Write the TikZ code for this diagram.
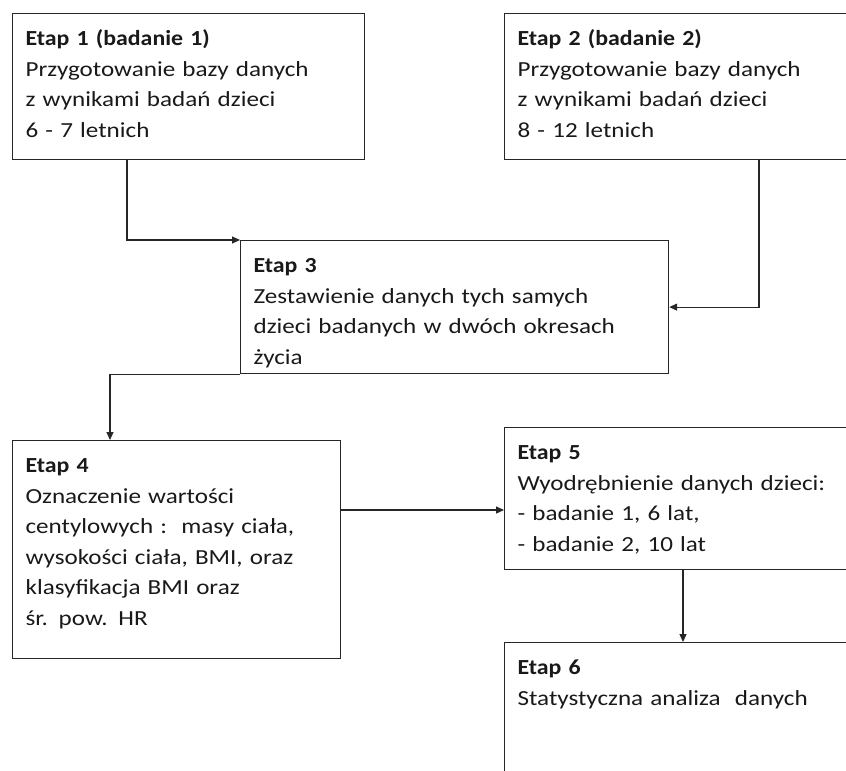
\documentclass[tikz,border=0pt]{standalone}
\usepackage{fontspec}
\setmainfont{Carlito}[FakeStretch=1.167,BoldFeatures={FakeStretch=1.109}]
\usetikzlibrary{arrows.meta}

\begin{document}
\begin{tikzpicture}[x=1pt,y=-1pt,>={Triangle[length=8pt,width=7pt]},
  etap/.style={draw=black!85,line width=1.2pt,anchor=north west,align=left,
    inner xsep=13pt,inner ysep=19pt,text height=13pt,text=black!90,
    font=\fontsize{21.5}{30.5}\selectfont},
  link/.style={->,draw=black!85,line width=1.2pt}]
  \useasboundingbox (0,0) rectangle (846,771);
  \clip (0,0) rectangle (846,771);
  % the two studies
  \node[etap,text width=326pt,text depth=95pt] (etap1) at (12,13)
    {\textbf{Etap 1 (badanie 1)}\\Przygotowanie bazy danych\\z wynikami badań dzieci\\6 - 7 letnich};
  \node[etap,text width=354pt,text depth=95pt] (etap2) at (504,13)
    {\textbf{Etap 2 (badanie 2)}\\Przygotowanie bazy danych\\z wynikami badań dzieci\\8 - 12 letnich};
  % merging
  \node[etap,text width=402pt,text depth=82pt] (etap3) at (240,240)
    {\textbf{Etap 3}\\Zestawienie danych tych samych\\dzieci badanych w dwóch okresach\\życia};
  \node[etap,text width=302pt,text depth=167pt] (etap4) at (12,440)
    {\textbf{Etap 4}\\Oznaczenie wartości\\centylowych :\ \ masy ciała,\\wysokości ciała, BMI, oraz\\klasyfikacja BMI oraz\\śr. pow. HR};
  \node[etap,text width=354pt,text depth=91pt] (etap5) at (504,427)
    {\textbf{Etap 5}\\Wyodrębnienie danych dzieci:\\- badanie 1, 6 lat,\\- badanie 2, 10 lat};
  \node[etap,text width=354pt,text depth=150pt] (etap6) at (504,642)
    {\textbf{Etap 6}\\Statystyczna analiza\ \ danych};
  % arrows between stages
  \draw[link] ([xshift=115pt]etap1.south west) |- (etap3.north west);
  \draw[link] ([xshift=255pt]etap2.south west) |- (etap3.east);
  \draw[link] (etap3.south west) -| ([xshift=98pt]etap4.north west);
  \draw[link] ([yshift=-70pt]etap4.north east) coordinate (h) -- (etap5.west |- h);
  \draw[link] ([xshift=179pt]etap5.south west) coordinate (v) -- (v |- etap6.north);
\end{tikzpicture}
\end{document}
